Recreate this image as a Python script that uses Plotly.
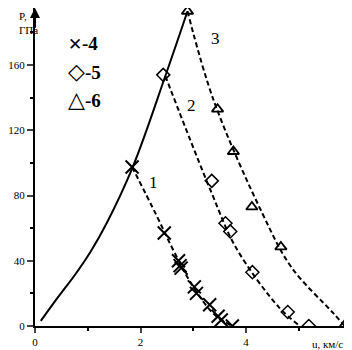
import plotly.graph_objects as go

# Data
u4 = [1.84, 2.45, 2.72, 2.75, 2.77, 3.02, 3.06, 3.31, 3.47, 3.53, 3.74]
p4 = [97.5, 57, 40, 37, 35.5, 24, 20, 13, 6, 3.7, 0]
u5 = [2.43, 3.35, 3.61, 3.70, 4.12, 4.79, 5.19]
p5 = [154, 89, 63, 58, 33, 8.6, 0]
u6 = [2.89, 3.46, 3.76, 4.11, 4.66, 5.87]
p6 = [193, 133, 107, 73, 48.5, 0.6]

curve_u = [0.11, 0.44, 0.755, 1.05, 1.36, 1.86, 2.47, 2.89]
curve_p = [3.1, 17.8, 31.3, 45.4, 63.2, 98.1, 153.3, 193]

line1_u = [1.84, 2.30, 2.62, 3.00, 3.40, 3.74]
line1_p = [97.5, 68, 46.6, 24, 7, 0]
line2_u = [2.47, 3.33, 3.81, 4.62, 5.02]
line2_p = [153.3, 83, 48, 11.6, 0]
line3_u = [2.89, 3.39, 4.31, 4.86, 5.65, 5.87]
line3_p = [193, 138, 69, 36, 8, 0]

xticks = [0, 2, 4]
yticks = [0, 40, 80, 120, 160]
legend_symbols = ["✕", "◇", "△"]
legend_labels = ["-4", "-5", "-6"]
curve_labels = ["1", "2", "3"]
label_u = [2.25, 2.97, 3.43]
label_p = [88, 135, 176]

FONT = "Liberation Serif, Times New Roman, DejaVu Serif, serif"
fig = go.Figure()

fig.add_trace(go.Scatter(x=curve_u, y=curve_p, mode="lines",
                         line=dict(color="black", width=2, shape="spline")))
for lu, lp in [(line1_u, line1_p), (line2_u, line2_p), (line3_u, line3_p)]:
    fig.add_trace(go.Scatter(x=lu, y=lp, mode="lines",
                             line=dict(color="black", width=2, dash="5px,3px", shape="spline")))

fig.add_trace(go.Scatter(x=u4, y=p4, mode="markers",
                         marker=dict(symbol="x-thin", size=13, line=dict(color="black", width=2))))
fig.add_trace(go.Scatter(x=u5, y=p5, mode="markers",
                         marker=dict(symbol="diamond-open", size=10, color="black", line=dict(width=1.5))))
fig.add_trace(go.Scatter(x=u6, y=p6, mode="markers",
                         marker=dict(symbol="triangle-up-open", size=10, color="black", line=dict(width=1.8))))

for t, x, y in zip(curve_labels, label_u, label_p):
    fig.add_annotation(x=x, y=y, text=t, showarrow=False,
                       font=dict(family=FONT, size=17, color="black"))

leg_y = [0.887, 0.799, 0.711]
leg_sizes = [17, 22, 22]
for s, t, y, fs in zip(legend_symbols, legend_labels, leg_y, leg_sizes):
    fig.add_annotation(xref="paper", yref="paper", x=0.099, y=y,
                       xanchor="left", yanchor="middle",
                       text="<span style='font-size:%dpx'>%s</span><b>%s</b>" % (fs, s, t),
                       showarrow=False,
                       font=dict(family=FONT, size=19, color="black"))

# axis titles
fig.add_annotation(xref="paper", yref="paper", x=-0.056, y=1.0, xanchor="left", yanchor="top",
                   text="P,<br>ГПа", showarrow=False, align="left",
                   font=dict(family=FONT, size=11, color="black"))
fig.add_annotation(xref="paper", yref="paper", x=0.985, y=-0.031, xanchor="right", yanchor="top",
                   text="u, км/с", showarrow=False,
                   font=dict(family=FONT, size=11, color="black"))
# arrow on y axis
fig.add_annotation(x=0, y=195, ax=0, ay=182, xref="x", yref="y", axref="x", ayref="y",
                   text="", showarrow=True, arrowhead=2, arrowsize=1, arrowwidth=2, arrowcolor="black")

fig.update_xaxes(range=[0, 5.97], tickvals=xticks, ticks="outside", ticklen=5, tickwidth=2,
                 showline=True, linecolor="black", linewidth=2, showgrid=False, zeroline=False,
                 tickfont=dict(family=FONT, size=11, color="black"),
                 minor=dict(tickvals=[1, 3, 5], ticks="outside", ticklen=3, tickwidth=1.5, tickcolor="black"))
fig.update_yaxes(range=[0, 195], tickvals=yticks, ticks="outside", ticklen=6, tickwidth=2,
                 showline=True, linecolor="black", linewidth=2, showgrid=False, zeroline=False,
                 tickfont=dict(family=FONT, size=11, color="black"),
                 minor=dict(tickvals=[20, 60, 100, 140, 180], ticks="outside", ticklen=3, tickwidth=1.5, tickcolor="black"))

fig.update_layout(width=344, height=342, margin=dict(l=18, r=2, t=0, b=24),
                  paper_bgcolor="white", plot_bgcolor="white", showlegend=False)

fig.write_html("out.html")
